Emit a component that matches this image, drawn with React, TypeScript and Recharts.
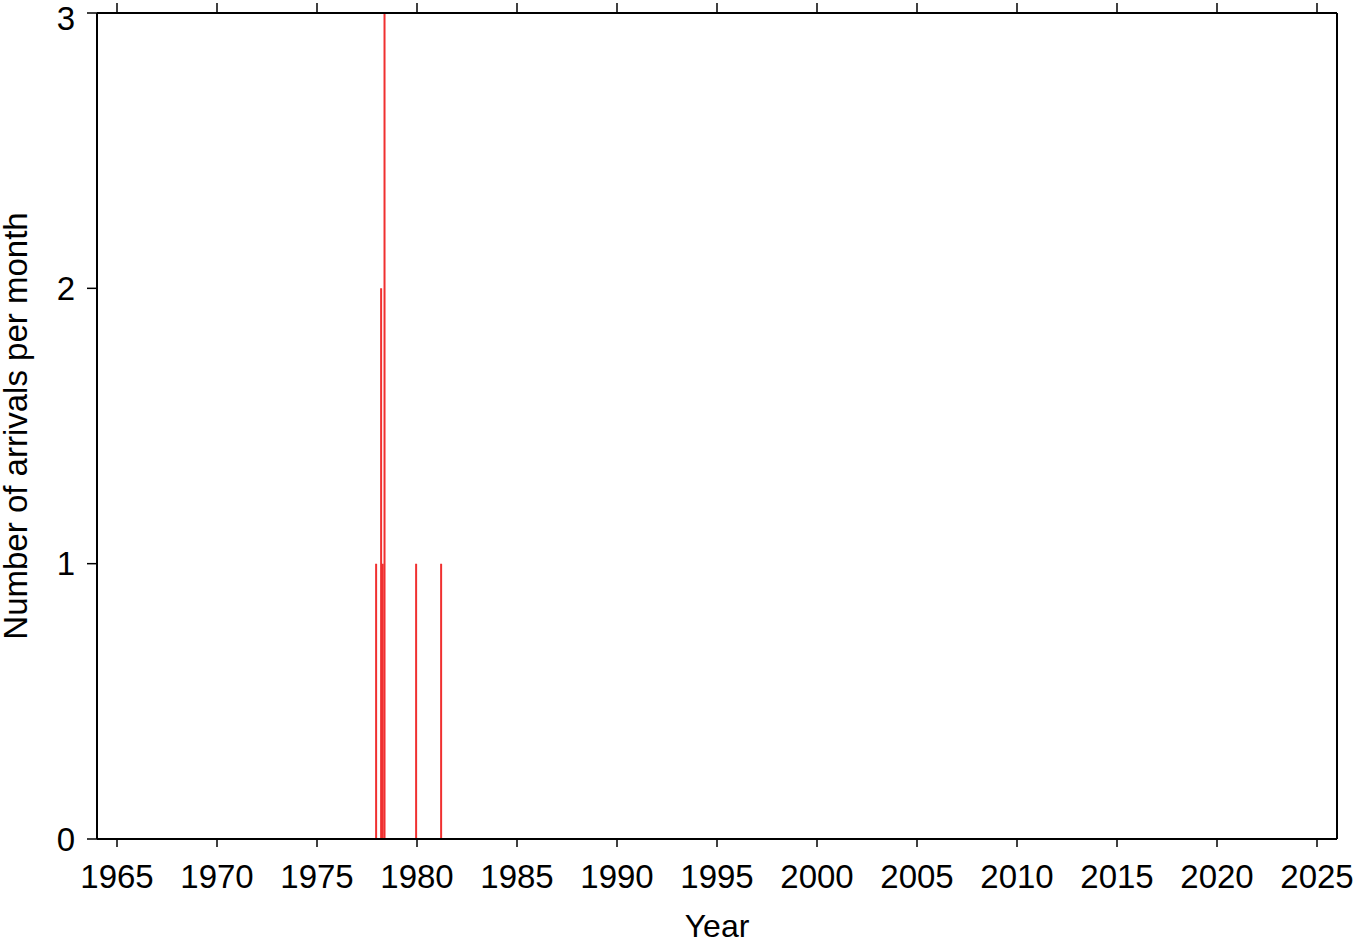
import { ComposedChart, Bar, XAxis, YAxis, Label } from "recharts";

// decimal year of each monthly bin, and number of arrivals in it
const arrivalYears = [1977.96, 1978.21, 1978.29, 1978.38, 1979.96, 1981.21];
const arrivalCounts = [1, 2, 1, 3, 1, 1];

const yearTicks = [1965, 1970, 1975, 1980, 1985, 1990, 1995, 2000, 2005, 2010, 2015, 2020, 2025];
const countTicks = [0, 1, 2, 3];

const data = arrivalYears.map((year, i) => ({ year, count: arrivalCounts[i] }));

const FONT = "'Liberation Sans', Arial, Helvetica, sans-serif";
const tickStyle = { fill: "#000", fontSize: 33, fontFamily: FONT };
const noLabel = () => "";

// thin vertical line for each bin
const Stick = (props: any) => {
  const { x, y, width, height } = props;
  if (height == null || height <= 0) return null;
  const cx = x + width / 2;
  return <line x1={cx} x2={cx} y1={y} y2={y + height} stroke="#f03030" strokeWidth={2} />;
};

export default function App() {
  return (
    <div style={{ position: "absolute", left: 0, top: 0, background: "#fff" }}>
      <ComposedChart
        width={1363}
        height={942}
        data={data}
        margin={{ top: 0, right: 0, left: 0, bottom: 0 }}
      >
        <XAxis
          xAxisId="bottom"
          dataKey="year"
          type="number"
          domain={[1964, 2026]}
          ticks={yearTicks}
          allowDataOverflow
          height={103}
          tickSize={8}
          tickMargin={18}
          tick={tickStyle}
          axisLine={{ stroke: "#000", strokeWidth: 2 }}
          tickLine={{ stroke: "#000", strokeWidth: 1.5 }}
        >
          <Label value="Year" position="insideBottom" offset={5} style={{ ...tickStyle, fontSize: 32 }} />
        </XAxis>
        <XAxis
          xAxisId="top"
          orientation="top"
          dataKey="year"
          type="number"
          domain={[1964, 2026]}
          ticks={yearTicks}
          allowDataOverflow
          height={13}
          tickSize={10}
          tickFormatter={noLabel}
          axisLine={{ stroke: "#000", strokeWidth: 2 }}
          tickLine={{ stroke: "#000", strokeWidth: 1.5 }}
        />
        <YAxis
          yAxisId="left"
          type="number"
          domain={[0, 3]}
          ticks={countTicks}
          width={97}
          tickSize={10}
          tickMargin={12}
          tick={tickStyle}
          axisLine={{ stroke: "#000", strokeWidth: 2 }}
          tickLine={{ stroke: "#000", strokeWidth: 1.5 }}
        >
          <Label
            value="Number of arrivals per month"
            angle={-90}
            position="insideLeft"
            offset={15}
            style={{ ...tickStyle, textAnchor: "middle" }}
          />
        </YAxis>
        <YAxis
          yAxisId="right"
          orientation="right"
          type="number"
          domain={[0, 3]}
          ticks={countTicks}
          width={26}
          tickSize={11}
          tickFormatter={noLabel}
          axisLine={{ stroke: "#000", strokeWidth: 2 }}
          tickLine={{ stroke: "#000", strokeWidth: 1.5 }}
        />
        <Bar
          xAxisId="bottom"
          yAxisId="left"
          dataKey="count"
          barSize={2}
          shape={<Stick />}
          isAnimationActive={false}
        />
      </ComposedChart>
    </div>
  );
}
